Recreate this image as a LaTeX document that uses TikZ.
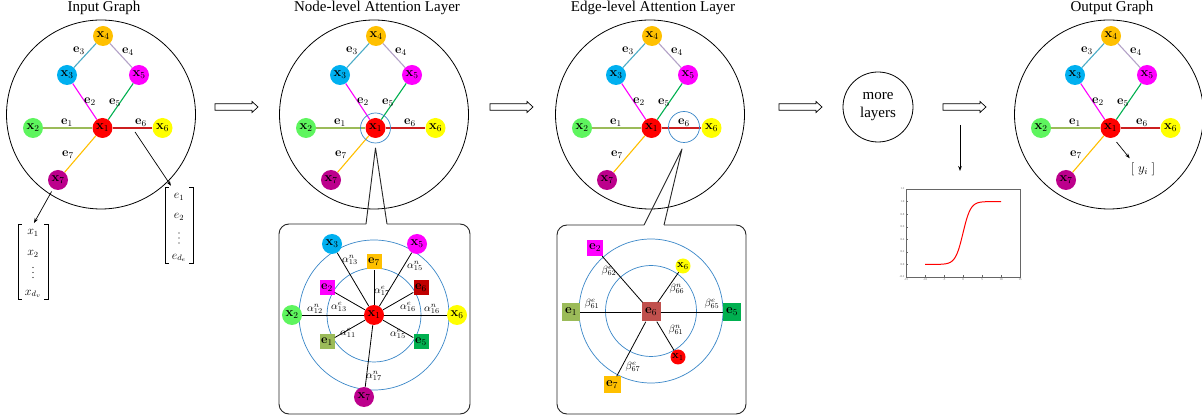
\documentclass[tikz,border=0pt]{standalone}
\usepackage{fix-cm}
\usepackage[no-math]{fontspec}
\setmainfont{Liberation Serif}
\usetikzlibrary{arrows.meta,calc}

% node fills
\definecolor{nXa}{HTML}{FF0000}
\definecolor{nXb}{HTML}{5EF55E}
\definecolor{nXc}{HTML}{00B0F0}
\definecolor{nXd}{HTML}{FFC000}
\definecolor{nXe}{HTML}{FF00FF}
\definecolor{nXf}{HTML}{FFFF00}
\definecolor{nXg}{HTML}{BC008C}
% edge colours
\definecolor{eA}{HTML}{9BBB59}
\definecolor{eB}{HTML}{FF00FF}
\definecolor{eC}{HTML}{4BACC6}
\definecolor{eD}{HTML}{B3A2C7}
\definecolor{eE}{HTML}{00B050}
\definecolor{eF}{HTML}{CC1F1F}
\definecolor{eG}{HTML}{FFC000}
\definecolor{sqSix}{HTML}{C00000}
\definecolor{sqSixB}{HTML}{C0504D}
\definecolor{ringblue}{HTML}{3A87C8}

\tikzset{
  gnode/.style={circle, fill=#1, minimum size=20pt, inner sep=0pt, font=\fontsize{13}{15}\selectfont},
  snode/.style={circle, fill=#1, minimum size=15pt, inner sep=0pt, font=\fontsize{11}{13}\selectfont},
  sqnode/.style={rectangle, fill=#1, minimum size=15pt, inner sep=0pt, font=\fontsize{12.5}{14}\selectfont},
  bsq/.style={rectangle, fill=#1, minimum size=18pt, inner sep=0pt, font=\fontsize{13}{15}\selectfont},
  elab/.style={font=\fontsize{12.5}{14}\selectfont, inner sep=0pt},
  wlab/.style={font=\fontsize{10.5}{12}\selectfont, inner sep=0pt},
  vent/.style={font=\fontsize{12}{14}\selectfont, inner sep=0pt},
  vdot/.style={circle, fill=black, minimum size=1.3pt, inner sep=0pt},
  gedge/.style={line width=1.1pt, draw=#1},
  spoke/.style={line width=0.8pt, draw=black},
  bluering/.style={circle, draw=ringblue, line width=0.7pt, inner sep=0pt},
  bigring/.style={circle, draw=black, line width=0.8pt, inner sep=0pt},
  boxline/.style={draw=black!85, line width=0.9pt},
  gtitle/.style={font=\fontsize{15}{18}\selectfont, anchor=base, inner sep=0pt},
  arr/.style={-{Stealth[length=5pt,width=3.6pt]}, line width=0.7pt},
  brk/.style={line width=0.6pt},
  harrowstyle/.style={draw=black, fill=white, line width=0.7pt},
  harrow/.pic={\draw[harrowstyle] (0,-3.2) -- (37,-3.2) -- (37,-5.5) -- (43,0) -- (37,5.5) -- (37,3.2) -- (0,3.2) -- cycle;},
  ticklab/.style={font=\fontsize{3}{3}\selectfont, text=black!60, inner sep=0.5pt},
}

% one copy of the seven-node graph, shifted horizontally;
% #4 is the horizontal place of the e6 label
\newcommand\gatgraph[4]{%
\begin{scope}[shift={(#2,0)}]
  \node[gtitle] (#1title) at (104,12) {#3};
  \node[bigring, minimum size=189pt] (#1ring) at (101,114.5) {};
  \node[gnode=nXa] (#1x1) at (102.5,128) {$\mathbf{x}_1$};
  \node[gnode=nXb] (#1x2) at (33,128) {$\mathbf{x}_2$};
  \node[gnode=nXc] (#1x3) at (67,75) {$\mathbf{x}_3$};
  \node[gnode=nXd] (#1x4) at (103,36) {$\mathbf{x}_4$};
  \node[gnode=nXe] (#1x5) at (139,75) {$\mathbf{x}_5$};
  \node[gnode=nXf] (#1x6) at (162.5,128) {$\mathbf{x}_6$};
  \node[gnode=nXg] (#1x7) at (58,180) {$\mathbf{x}_7$};
  \draw[gedge=eA] (#1x2) -- (#1x1);
  \draw[gedge=eB] (#1x3) -- (#1x1);
  \draw[gedge=eC] (#1x3) -- (#1x4);
  \draw[gedge=eD] (#1x4) -- (#1x5);
  \draw[gedge=eE] (#1x5) -- (#1x1);
  \draw[gedge=eF] (#1x1) -- (#1x6);
  \draw[gedge=eG] (#1x7) -- (#1x1);
  \node[elab] (#1e1) at (67,123) {$\mathbf{e}_1$};
  \node[elab] (#1e2) at (90,102) {$\mathbf{e}_2$};
  \node[elab] (#1e3) at (79,51) {$\mathbf{e}_3$};
  \node[elab] (#1e4) at (128,52) {$\mathbf{e}_4$};
  \node[elab] (#1e5) at (115,103) {$\mathbf{e}_5$};
  \node[elab] (#1e6) at (#4,123) {$\mathbf{e}_6$};
  \node[elab] (#1e7) at (68,155) {$\mathbf{e}_7$};
\end{scope}}

\begin{document}
\begin{tikzpicture}[x=1pt, y=-1pt]
\useasboundingbox (0,0) rectangle (1202,419);
\fill[white] (0,0) rectangle (1202,419);

% ---------- the four graphs ----------
\gatgraph{g1}{0}{Input Graph}{141}
\gatgraph{g2}{273}{Node-level Attention Layer}{137}
\gatgraph{g3}{549}{Edge-level Attention Layer}{135}
\gatgraph{g4}{1008}{Output Graph}{134}

% ---------- input feature vectors ----------
\node[inner sep=0pt, minimum width=30pt, minimum height=74pt] (xvec) at (33,262) {};
\draw[brk] ([xshift=4pt]xvec.north west) -- (xvec.north west) -- (xvec.south west) -- ([xshift=4pt]xvec.south west);
\draw[brk] ([xshift=-4pt]xvec.north east) -- (xvec.north east) -- (xvec.south east) -- ([xshift=-4pt]xvec.south east);
\node[vent] (xv1) at (33,233) {$x_1$};
\node[vent] (xv2) at (33,254) {$x_2$};
\node[vdot] (xd1) at (33,267.5) {};
\node[vdot] (xd2) at (33,272.5) {};
\node[vdot] (xd3) at (33,277.5) {};
\node[vent] (xv4) at (33,294) {$x_{d_v}$};

\node[inner sep=0pt, minimum width=28pt, minimum height=75pt] (evec) at (179,225.5) {};
\draw[brk] ([xshift=4pt]evec.north west) -- (evec.north west) -- (evec.south west) -- ([xshift=4pt]evec.south west);
\draw[brk] ([xshift=-4pt]evec.north east) -- (evec.north east) -- (evec.south east) -- ([xshift=-4pt]evec.south east);
\node[vent] (ev1) at (179,197) {$e_1$};
\node[vent] (ev2) at (179,217) {$e_2$};
\node[vdot] (ed1) at (179,233) {};
\node[vdot] (ed2) at (179,238) {};
\node[vdot] (ed3) at (179,243) {};
\node[vent] (ev4) at (179,258) {$e_{d_e}$};

\draw[arr, shorten <=3pt, shorten >=2pt] (g1x7) -- (xvec.north);
\coordinate (g1e6pt) at (135,132);
\draw[arr] (g1e6pt) -- ($(evec.north)+(-8,-2)$);

% ---------- hollow flow arrows ----------
\pic (fa1) at (215,107) {harrow};
\pic (fa2) at (490,107) {harrow};
\pic (fa3) at (779,107) {harrow};
\pic (fa4) at (943,107) {harrow};

% ---------- node-level attention detail ----------
\node[bluering, minimum size=30pt] (g2hl) at (g2x1) {};
\coordinate (b1tip) at ($(g2x1)+(0,20)$);
\coordinate (b1gl) at (366,224);
\coordinate (b1gr) at (387,224);
\draw[boxline, rounded corners=10pt] (b1gl) -- (279,224) -- (279,414) -- (470,414) -- (470,224) -- (b1gr);
\draw[boxline, line join=round] (b1gl) -- (b1tip) -- (b1gr);

\node[bluering, minimum size=150pt] (b1out) at (374,315) {};
\node[bluering, minimum size=94pt] (b1in) at (374,315) {};
\node[gnode=nXa] (b1x1) at (374,315) {$\mathbf{x}_1$};
\node[gnode=nXb] (b1x2) at (292,315) {$\mathbf{x}_2$};
\node[gnode=nXc] (b1x3) at (332,244) {$\mathbf{x}_3$};
\node[gnode=nXe] (b1x5) at (417,244) {$\mathbf{x}_5$};
\node[gnode=nXf] (b1x6) at (457,315) {$\mathbf{x}_6$};
\node[gnode=nXg] (b1x7) at (364,397) {$\mathbf{x}_7$};
\node[sqnode=eG] (b1e7) at (374,262) {$\mathbf{e}_7$};
\node[sqnode=eB] (b1e2) at (327,288) {$\mathbf{e}_2$};
\node[sqnode=sqSix] (b1e6) at (421,288) {$\mathbf{e}_6$};
\node[sqnode=eA] (b1e1) at (327,342) {$\mathbf{e}_1$};
\node[sqnode=eE] (b1e5) at (421,342) {$\mathbf{e}_5$};
\foreach \t in {x2,x3,x5,x6,x7,e7,e2,e6,e1,e5}
  \draw[spoke] (b1x1) -- (b1\t);
\node[wlab] (a13n) at (350,260) {$\alpha^{n}_{13}$};
\node[wlab] (a17e) at (382,291) {$\alpha^{e}_{17}$};
\node[wlab] (a15n) at (415,266) {$\alpha^{n}_{15}$};
\node[wlab] (a12n) at (315,309) {$\alpha^{n}_{12}$};
\node[wlab] (a13e) at (339,307) {$\alpha^{e}_{13}$};
\node[wlab] (a16e) at (408,307) {$\alpha^{e}_{16}$};
\node[wlab] (a16n) at (432,309) {$\alpha^{n}_{16}$};
\node[wlab] (a11e) at (348,333) {$\alpha^{e}_{11}$};
\node[wlab] (a15e) at (398,334) {$\alpha^{e}_{15}$};
\node[wlab] (a17n) at (374,376) {$\alpha^{n}_{17}$};

% ---------- edge-level attention detail ----------
\node[bluering, minimum size=31pt] (g3hl) at (684,127) {};
\coordinate (b2tip) at ($(g3hl)+(-2,22)$);
\coordinate (b2gl) at (644,225);
\coordinate (b2gr) at (664,225);
\draw[boxline, rounded corners=10pt] (b2gl) -- (557,225) -- (557,414) -- (746,414) -- (746,225) -- (b2gr);
\draw[boxline, line join=round] (b2gl) -- (b2tip) -- (b2gr);

\node[bluering, minimum size=144pt] (b2out) at (651,311) {};
\node[bluering, minimum size=91pt] (b2in) at (651,311) {};
\node[bsq=sqSixB, minimum size=19pt] (b2e6) at (651,312) {$\mathbf{e}_6$};
\node[bsq=eB, minimum size=16pt] (b2e2) at (595,248) {$\mathbf{e}_2$};
\node[snode=nXf] (b2x6) at (683,266) {$\mathbf{x}_6$};
\node[bsq=eA] (b2e1) at (571,312) {$\mathbf{e}_1$};
\node[bsq=eE] (b2e5) at (732,312) {$\mathbf{e}_5$};
\node[snode=nXa] (b2x1) at (678,357) {$\mathbf{x}_1$};
\node[bsq=eG, minimum size=17pt] (b2e7) at (612,385) {$\mathbf{e}_7$};
\foreach \t in {e2,x6,e1,e5,x1,e7}
  \draw[spoke] (b2e6) -- (b2\t);
\node[wlab] (b62e) at (609,271) {$\beta^{e}_{62}$};
\node[wlab] (b66n) at (677,289) {$\beta^{n}_{66}$};
\node[wlab] (b61e) at (592,304) {$\beta^{e}_{61}$};
\node[wlab] (b65e) at (712,304) {$\beta^{e}_{65}$};
\node[wlab] (b61n) at (676,330) {$\beta^{n}_{61}$};
\node[wlab] (b67e) at (633,367) {$\beta^{e}_{67}$};

% ---------- more layers ----------
\node[bigring, minimum size=70pt, align=center, font=\fontsize{15}{18}\selectfont] (more) at (878,107) {more\\layers};

% ---------- sigmoid read-out ----------
\coordinate (sgA) at (960,125);
\coordinate (sgB) at (960,171);
\draw[arr] (sgA) -- (sgB);
\node[draw=black!60, line width=0.8pt, minimum width=114pt, minimum height=88pt, inner sep=0pt] (plotbox) at (963,233) {};
\foreach \v/\t [count=\i] in {-0.2/-0.2, 0/0.0, 0.2/0.2, 0.4/0.4, 0.6/0.6, 0.8/0.8, 1.0/1.0, 1.2/1.2} {
  \node[ticklab, anchor=east] (yt\i) at (905,{277-(\v+0.2)*62.86}) {\t};
  \draw[black!60, line width=0.3pt] (906,{277-(\v+0.2)*62.86}) -- (908,{277-(\v+0.2)*62.86});
}
\foreach \v [count=\i] in {-15,-10,-5,0,5,10,15} {
  \node[ticklab, anchor=north] (xt\i) at ({906+(\v+15)*3.8},278) {\v};
  \draw[black!60, line width=0.3pt] ({906+(\v+15)*3.8},277) -- ({906+(\v+15)*3.8},275);
}
\draw[red, line width=1pt]
  plot[domain=-10:0, samples=40, smooth] ({906+(\x+15)*3.8}, {277-(exp(\x)/(1+exp(\x))+0.2)*62.86})
  -- plot[domain=0:10, samples=40, smooth] ({906+(\x+15)*3.8}, {277-(1/(1+exp(-\x))+0.2)*62.86});

% ---------- output label ----------
\node[font=\fontsize{13}{15}\selectfont, inner sep=0pt] (g4y) at (1143,169) {$[\;y_i\;]$};
\coordinate (g4ys) at ($(g4x1)+(6,14)$);
\draw[arr] (g4ys) -- ($(g4y.north west)+(-1,-4)$);

\end{tikzpicture}
\end{document}
